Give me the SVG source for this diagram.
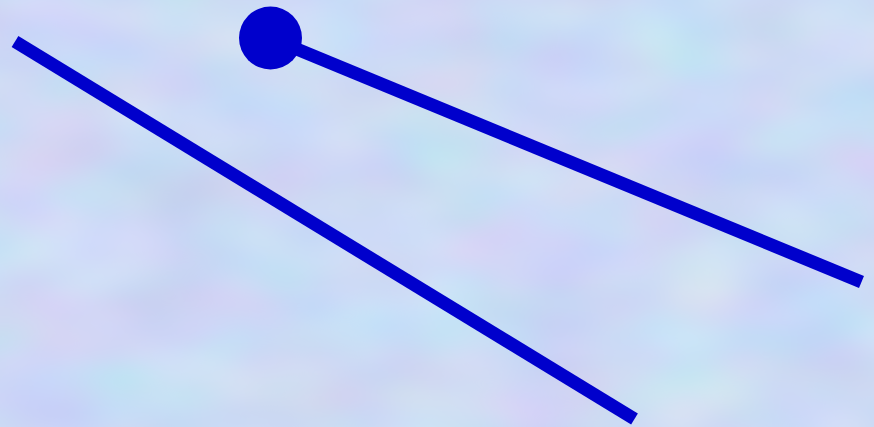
<svg xmlns="http://www.w3.org/2000/svg" width="874" height="427" viewBox="0 0 874 427">
<defs>
<style>
.ln{stroke:#0000cc;stroke-width:13;fill:none;stroke-linecap:butt}
</style>
<filter id="tex" x="0" y="0" width="100%" height="100%" color-interpolation-filters="sRGB">
<feTurbulence type="fractalNoise" baseFrequency="0.008 0.014" numOctaves="2" seed="7" result="n"/>
<feColorMatrix in="n" type="matrix" values="0.16 0 0 0 0.72  0 0.13 0 0 0.79  0 0 0.06 0 0.93  0 0 0 0 1"/>
</filter>
</defs>
<rect width="874" height="427" fill="#cbd9f6"/>
<rect width="874" height="427" filter="url(#tex)"/>
<g id="connectors">
<line class="ln" x1="15" y1="41.5" x2="634.5" y2="419"/>
<line class="ln" x1="270" y1="38" x2="861.5" y2="282"/>
</g>
<g id="node-dot">
<circle cx="270.5" cy="38" r="31.5" fill="#0000cc"/>
</g>
</svg>
